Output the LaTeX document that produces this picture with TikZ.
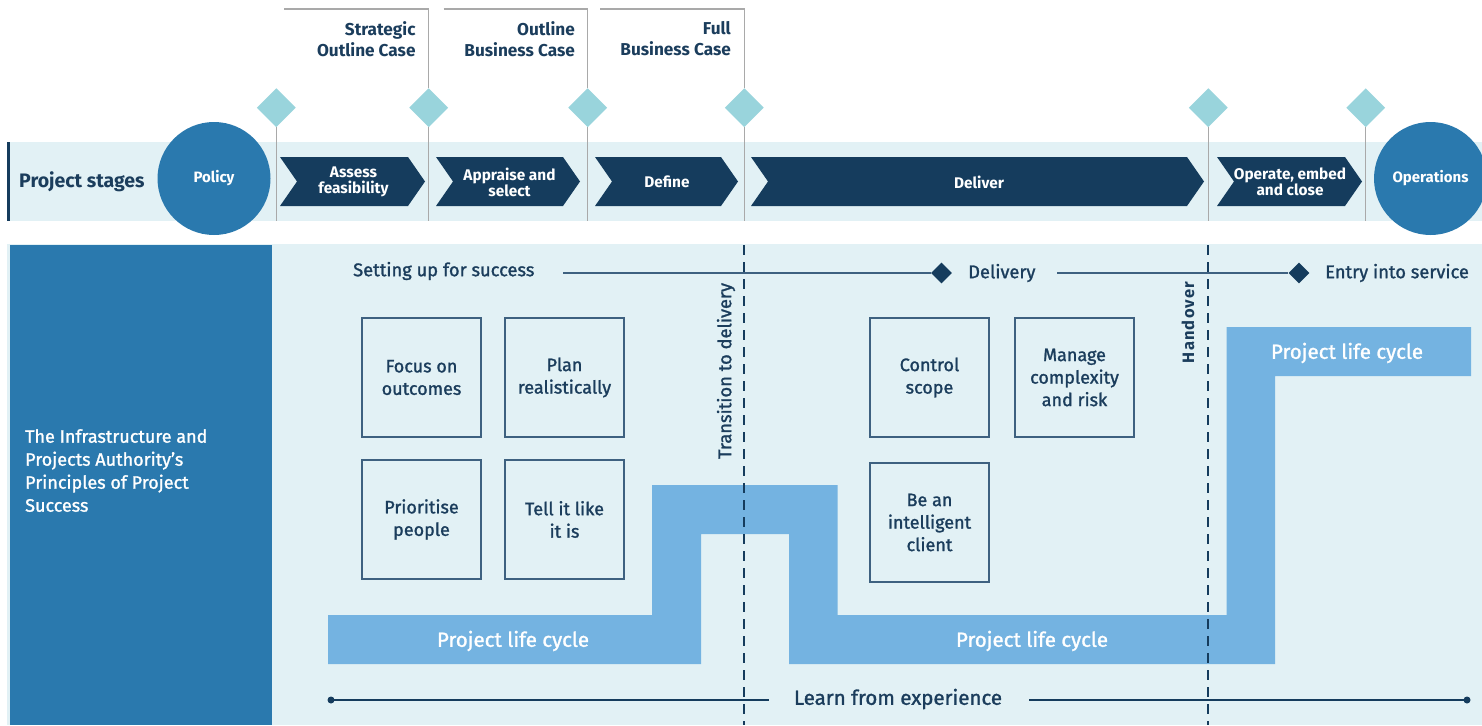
\documentclass[tikz,border=0pt]{standalone}
\usepackage{fontspec}
\setmainfont{Fira Sans}
\newfontfamily\medfont{Fira Sans}[FakeBold=1.3]
\newfontfamily\hofont{Fira Sans Bold}[LetterSpace=7]
\usetikzlibrary{shapes.geometric}
\definecolor{navy}{HTML}{153C5D}
\definecolor{midblue}{HTML}{2A79AE}
\definecolor{lightbg}{HTML}{E2F1F5}
\definecolor{diam}{HTML}{99D4DC}
\definecolor{lcblue}{HTML}{74B3E1}
\definecolor{grayline}{HTML}{A9A9A9}
\definecolor{txtnavy}{HTML}{1B3D5C}
\definecolor{boxline}{HTML}{3E6180}
\begin{document}
\begin{tikzpicture}[x=1pt,y=-1pt,
  ms/.style={diamond, fill=diam, minimum width=39, minimum height=39, inner sep=0},
  mslabel/.style={anchor=north east, align=right, font=\fontsize{17.2}{21}\selectfont\bfseries, text=txtnavy, inner sep=0},
  chevtxt/.style={align=center, font=\fontsize{15.4}{16}\selectfont\bfseries, text=white, inner sep=0},
  bigcirc/.style={circle, fill=midblue, minimum size=113, inner sep=0, text=white, font=\fontsize{15}{17}\selectfont\bfseries},
  pbox/.style={draw=boxline, line width=1.5, minimum width=119, minimum height=119, inner sep=0, align=center, text=txtnavy, font=\fontsize{18}{22.5}\selectfont\medfont},
  tl/.style={text=txtnavy, font=\fontsize{18.3}{20}\selectfont\medfont, inner sep=0},
  smd/.style={diamond, fill=navy, minimum width=21, minimum height=21, inner sep=0},
  lctxt/.style={text=white, font=\fontsize{20.5}{22}\selectfont\medfont, inner sep=0},
  hline/.style={draw=boxline, line width=1.8},
  dline/.style={draw=navy, line width=2.6, dash pattern=on 10 off 7},
  gline/.style={draw=grayline, line width=1.5}
]
\useasboundingbox (0,0) rectangle (1482,725);

% ---- top band
\fill[lightbg] (7,142) rectangle (1482,221);
\fill[navy] (7,142) rectangle (10,221);
\node[anchor=west, inner sep=0, text=txtnavy, font=\fontsize{19.5}{21}\selectfont\bfseries] (ps) at (19,182) {Project stages};

% ---- milestones
\foreach \n/\x in {m1/276.3, m2/428.7, m3/587.7, m4/744.3, m5/1208.3, m6/1365.7}{
  \node[ms] (\n) at (\x,107.7) {};
  \coordinate (\n b) at (\x,221);
  \draw[gline] (\n.south) -- (\n b);
}
\draw[gline] (284,9) -| (m2.north);
\draw[gline] (443.7,9) -| (m3.north);
\draw[gline] (600,9) -| (m4.north);
\node[mslabel] (l1) at (415.7,21.5) {Strategic\\Outline Case};
\node[mslabel] (l2) at (575,21.5) {Outline\\Business Case};
\node[mslabel] (l3) at (731,21.5) {Full\\Business Case};

% ---- chevrons
\foreach \a/\b in {280/408, 436/563, 595/721, 751/1187, 1217/1345}{
  \fill[navy] (\a,157) -- (\b,157) -- (\b+17,181.5) -- (\b,206) -- (\a,206) -- (\a+17,181.5) -- cycle;
}
\node[chevtxt] (c1) at (353.5,182) {Assess\\feasibility};
\node[chevtxt] (c2) at (509.5,182) {Appraise and\\select};
\node[chevtxt] (c3) at (667,182) {Define};
\node[chevtxt] (c4) at (979,182) {Deliver};
\node[chevtxt] (c5) at (1290,182) {Operate, embed\\and close};

% ---- circles
\node[bigcirc] (policy) at (214,178.5) {\raisebox{-1pt}{Policy}};
\node[bigcirc] (ops) at (1430.5,178.5) {\raisebox{-1pt}{Operations}};

% ---- lower panel
\fill[lightbg] (7,244) rectangle (1482,725);
\fill[midblue] (10,245) rectangle (272,725);
\node[anchor=north west, align=left, inner sep=0, text=white, font=\fontsize{18}{23}\selectfont\medfont] (ipa) at (25,429)
  {The Infrastructure and\\Projects Authority’s\\Principles of Project\\Success};

% life cycle band
\fill[lcblue] (328,615) -- (652,615) -- (652,485) -- (837.5,485) -- (837.5,615) -- (1226.5,615)
  -- (1226.5,327) -- (1471,327) -- (1471,376) -- (1275,376) -- (1275,664) -- (789,664)
  -- (789,534) -- (701,534) -- (701,664) -- (328,664) -- cycle;
\node[lctxt] (lc1) at (513,641) {Project life cycle};
\node[lctxt] (lc2) at (1032,641) {Project life cycle};
\node[lctxt] (lc3) at (1347,353) {Project life cycle};

% dashed separators
\draw[dline] (744,245) -- (744,725);
\draw[dline] (1208,245) -- (1208,725);
\node[rotate=90, inner sep=0, text=txtnavy, font=\fontsize{18.3}{20}\selectfont\medfont] (trans) at (726,371) {Transition to delivery};
\node[rotate=90, inner sep=0, text=txtnavy, font=\fontsize{16.5}{18}\selectfont\hofont] (hand) at (1188,322.5) {Handover};

% timeline at top of panel
\node[tl, anchor=west] (setup) at (353,271) {Setting up for success};
\node[smd] (d1) at (941.5,273) {};
\node[tl, anchor=west] (deliv) at (968,273) {Delivery};
\node[smd] (d2) at (1299,273) {};
\node[tl, anchor=west] (entry) at (1325,273) {Entry into service};
\coordinate (s1) at (563,273);
\coordinate (s2) at (1057,273);
\draw[hline] (s1) -- (d1.west);
\draw[hline] (s2) -- (d2.west);

% principle boxes
\node[pbox] (b1) at (421.5,377.5) {Focus on\\outcomes};
\node[pbox] (b2) at (564.5,377.5) {Plan\\realistically};
\node[pbox] (b3) at (421.5,519.5) {Prioritise\\people};
\node[pbox] (b4) at (564.5,519.5) {Tell it like\\it is};
\node[pbox] (b5) at (929.5,377.5) {Control\\scope};
\node[pbox] (b6) at (1074.5,377.5) {Manage\\complexity\\and risk};
\node[pbox] (b7) at (929.5,522.5) {Be an\\intelligent\\client};

% learn from experience
\node[inner sep=0, text=txtnavy, font=\fontsize{20.5}{22}\selectfont\medfont] (learn) at (898,699) {Learn from experience};
\coordinate (e1) at (331,700);
\coordinate (e2) at (769,700);
\coordinate (e3) at (1029,700);
\coordinate (e4) at (1467,700);
\draw[navy, line width=1.8] (e1) -- (e2);
\draw[navy, line width=1.8] (e3) -- (e4);
\fill[navy] (e1) circle (3.5);
\fill[navy] (e4) circle (3.5);
\end{tikzpicture}
\end{document}
